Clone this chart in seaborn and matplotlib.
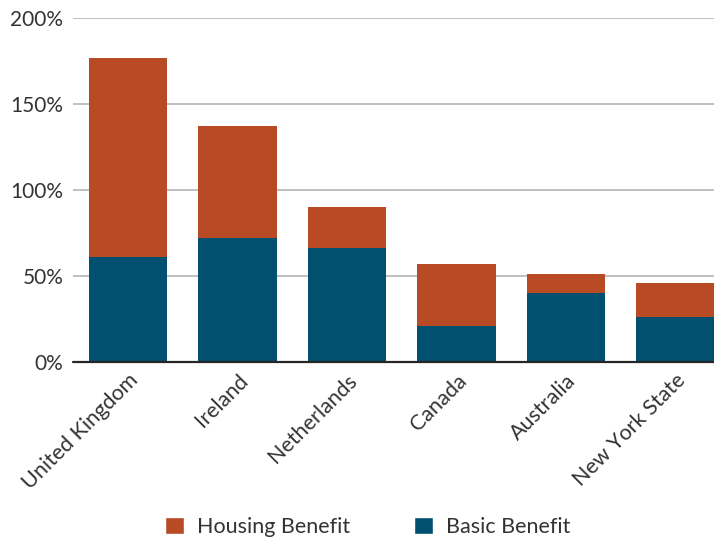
import matplotlib
matplotlib.use("Agg")
import matplotlib.pyplot as plt
from matplotlib.patches import Patch
from matplotlib.ticker import FuncFormatter
import pandas as pd
import seaborn as sns

# Benefit levels as a share (%) per jurisdiction
countries = ["United Kingdom", "Ireland", "Netherlands", "Canada", "Australia", "New York State"]
basic_benefit = [61, 72, 66, 21, 40, 26]
housing_benefit = [116, 65, 24, 36, 11, 20]
y_ticks = [0, 50, 100, 150, 200]

HOUSING_COLOR = "#B84A26"
BASIC_COLOR = "#01506F"
TEXT_COLOR = "#333333"

df = pd.DataFrame({
    "country": countries,
    "basic": basic_benefit,
    "housing": housing_benefit,
})
df["total"] = df["basic"] + df["housing"]

sns.set_style("white")
plt.rcParams["font.family"] = ["Lato", "DejaVu Sans"]

fig = plt.figure(figsize=(7.14, 5.40), dpi=100)
ax = fig.add_axes([73 / 714, (540 - 362) / 540, 1 - 73 / 714, (362 - 18) / 540])

# Stacked bars: full total in housing colour, basic portion drawn over it
sns.barplot(data=df, x="country", y="total", color=HOUSING_COLOR, width=0.716,
            saturation=1, linewidth=0, ax=ax, zorder=3)
sns.barplot(data=df, x="country", y="basic", color=BASIC_COLOR, width=0.716,
            saturation=1, linewidth=0, ax=ax, zorder=3)

ax.set_ylim(0, 200)
ax.set_xlim(-0.5, 5.35)
ax.set_yticks(y_ticks)
ax.yaxis.set_major_formatter(FuncFormatter(lambda v, _: f"{v:.0f}%"))
ax.yaxis.grid(True, color="#c0c0c0", linewidth=1.4, zorder=0)
ax.xaxis.grid(False)
ax.axhline(0, color="#262626", linewidth=1.6, zorder=4, clip_on=False)

for side in ["top", "right", "left", "bottom"]:
    ax.spines[side].set_visible(False)

ax.set_xlabel("")
ax.set_ylabel("")
ax.tick_params(axis="y", length=0, pad=7, labelsize=15, labelcolor=TEXT_COLOR)
ax.tick_params(axis="x", length=0, pad=6, labelsize=15.5, labelcolor=TEXT_COLOR)
plt.setp(ax.get_xticklabels(), rotation=45, ha="right", rotation_mode="anchor")

handles = [Patch(facecolor=HOUSING_COLOR, label="Housing Benefit"),
           Patch(facecolor=BASIC_COLOR, label="Basic Benefit")]
fig.legend(handles=handles, loc="lower center", bbox_to_anchor=(0.515, -0.03),
           ncol=2, frameon=False, fontsize=15.5, handlelength=0.85, handleheight=0.85,
           handletextpad=0.6, columnspacing=3.0, labelcolor=TEXT_COLOR)

fig.savefig("out.png", dpi=100)
